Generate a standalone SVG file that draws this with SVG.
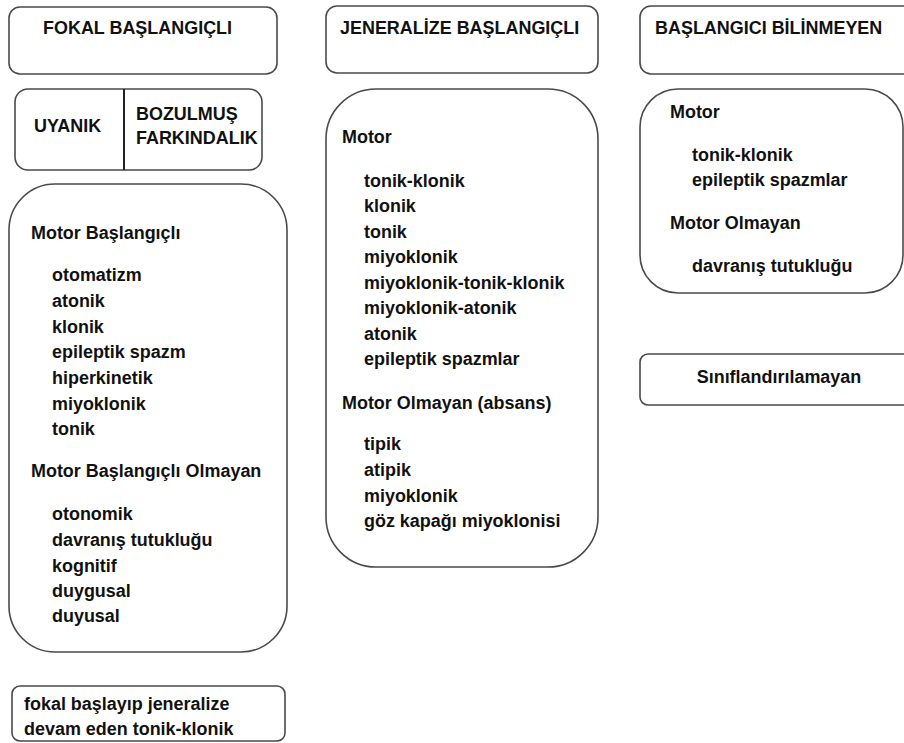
<svg xmlns="http://www.w3.org/2000/svg" width="904" height="743" viewBox="0 0 904 743">
<style>
.b{fill:#fff;stroke:#4a4a4a;stroke-width:1.6}
text{font-family:"Liberation Sans",Arial,sans-serif;font-weight:bold;font-size:19.2px;fill:#111;transform-box:fill-box;transform-origin:0 0;transform:scaleX(0.935)}
text.c{transform-origin:50% 0}
</style>
<rect width="904" height="743" fill="#fff"/>
<g id="connectors"/>
<g id="fokal-header">
<rect class="b" x="9" y="7" width="268" height="67" rx="11"/>
<text x="43" y="34">FOKAL BAŞLANGIÇLI</text>
</g>
<g id="farkindalik">
<rect class="b" x="15" y="89" width="247" height="81" rx="13"/>
<line x1="124" y1="89" x2="124" y2="170" stroke="#222" stroke-width="2"/>
<text x="34" y="132">UYANIK</text>
<text x="136" y="120">BOZULMUŞ</text>
<text x="136" y="144">FARKINDALIK</text>
</g>
<g id="fokal-list">
<rect class="b" x="9" y="184" width="278" height="468" rx="46"/>
<text x="31" y="239">Motor Başlangıçlı</text>
<text x="52" y="281">otomatizm</text>
<text x="52" y="307">atonik</text>
<text x="52" y="333">klonik</text>
<text x="52" y="358">epileptik spazm</text>
<text x="52" y="384">hiperkinetik</text>
<text x="52" y="410">miyoklonik</text>
<text x="52" y="435">tonik</text>
<text x="31" y="477">Motor Başlangıçlı Olmayan</text>
<text x="52" y="520">otonomik</text>
<text x="52" y="546">davranış tutukluğu</text>
<text x="52" y="572">kognitif</text>
<text x="52" y="597">duygusal</text>
<text x="52" y="622">duyusal</text>
</g>
<g id="fokal-jeneralize">
<rect class="b" x="12" y="686" width="273" height="55" rx="8"/>
<text x="24" y="710">fokal başlayıp jeneralize</text>
<text x="24" y="735">devam eden tonik-klonik</text>
</g>
<g id="jeneralize-header">
<rect class="b" x="326" y="6" width="272" height="67" rx="11"/>
<text x="340" y="34">JENERALİZE BAŞLANGIÇLI</text>
</g>
<g id="jeneralize-list">
<rect class="b" x="326" y="89" width="272" height="478" rx="50"/>
<text x="342" y="143">Motor</text>
<text x="364" y="187">tonik-klonik</text>
<text x="364" y="212">klonik</text>
<text x="364" y="238">tonik</text>
<text x="364" y="263">miyoklonik</text>
<text x="364" y="289">miyoklonik-tonik-klonik</text>
<text x="364" y="314">miyoklonik-atonik</text>
<text x="364" y="340">atonik</text>
<text x="364" y="365">epileptik spazmlar</text>
<text x="342" y="409">Motor Olmayan (absans)</text>
<text x="364" y="450">tipik</text>
<text x="364" y="476">atipik</text>
<text x="364" y="502">miyoklonik</text>
<text x="364" y="527">göz kapağı miyoklonisi</text>
</g>
<g id="bilinmeyen-header">
<rect class="b" x="640" y="6" width="275" height="68" rx="11"/>
<text x="655" y="34">BAŞLANGICI BİLİNMEYEN</text>
</g>
<g id="bilinmeyen-list">
<rect class="b" x="640" y="89" width="263" height="204" rx="38"/>
<text x="670" y="118">Motor</text>
<text x="692" y="161">tonik-klonik</text>
<text x="692" y="186">epileptik spazmlar</text>
<text x="670" y="229">Motor Olmayan</text>
<text x="692" y="272">davranış tutukluğu</text>
</g>
<g id="siniflandirilamayan">
<rect class="b" x="640" y="354" width="275" height="51" rx="8"/>
<text class="c" x="779" y="383" text-anchor="middle">Sınıflandırılamayan</text>
</g>
</svg>
